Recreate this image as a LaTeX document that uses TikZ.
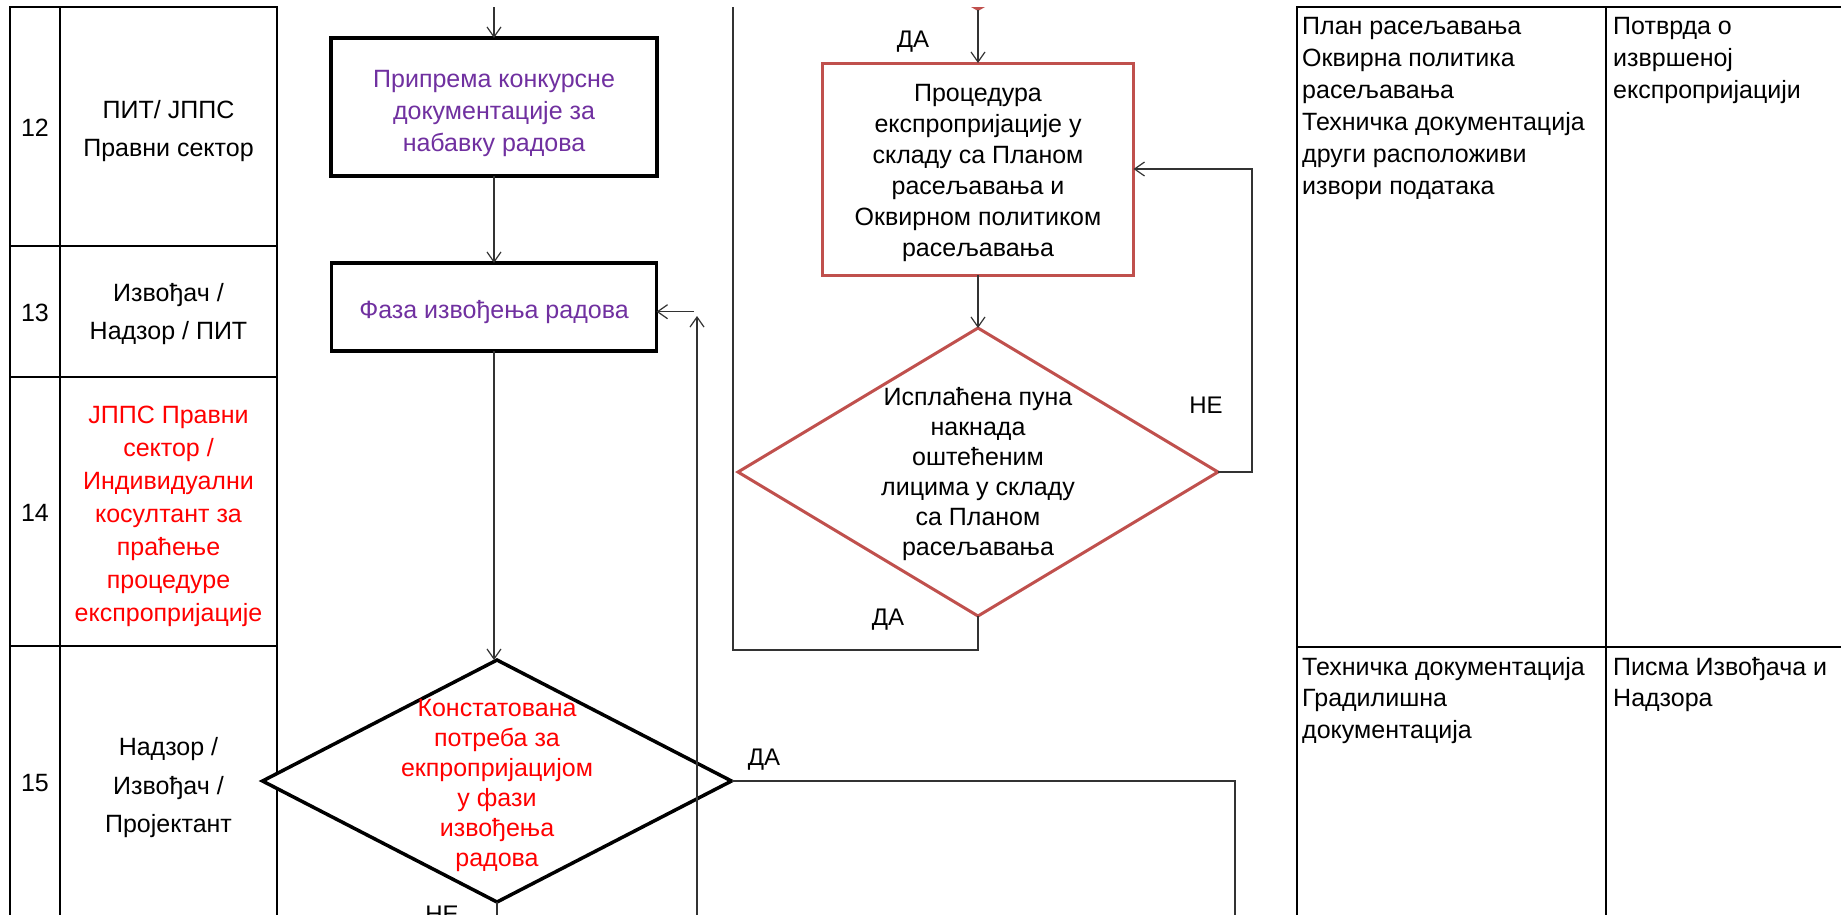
\documentclass[tikz,border=0pt]{standalone}
\usepackage{fontspec}
\setmainfont{Liberation Sans}
\usetikzlibrary{arrows.meta,shapes.geometric}
\definecolor{boxred}{HTML}{C0504D}
\definecolor{txtpurple}{HTML}{7030A0}
\definecolor{txtred}{HTML}{FF0000}
\begin{document}
\begin{tikzpicture}[x=1pt,y=-1pt,
  tbl/.style={line width=2.7pt, black},
  conn/.style={line width=1.2pt, black!80},
  arr/.style={conn, -{Straight Barb[length=10pt,width=14pt,line width=1.2pt]}},
  procbox/.style={draw, line width=3.3pt, fill=white, inner sep=0pt, outer sep=0pt, align=center, font=\fontsize{25}{30}\selectfont},
  diam/.style={diamond, draw, fill=white, line width=3.5pt, inner sep=0pt, outer sep=0pt},
  dtext/.style={align=center, inner sep=0pt, font=\fontsize{25}{30}\selectfont},
  lanetxt/.style={align=center, inner sep=0pt, font=\fontsize{25}{38.5}\selectfont},
  doctxt/.style={align=left, anchor=north west, inner sep=0pt, font=\fontsize{25}{32}\selectfont},
  lab/.style={inner sep=0pt, text height=17pt, text depth=0pt, font=\fontsize{24}{27}\selectfont}
]
\useasboundingbox (0,0) rectangle (1841,914);
\fill[white] (0,0) rectangle (1841,914);
\clip (0,0) rectangle (1841,914);

% left table
\draw[tbl] (10,925) -- (10,7) -- (277,7) -- (277,925);
\draw[tbl] (60,7) -- (60,925);
\draw[tbl] (10,246) -- (277,246);
\draw[tbl] (10,377) -- (277,377);
\draw[tbl] (10,646) -- (277,646);

% right table
\draw[tbl] (1297,925) -- (1297,7) -- (1850,7);
\draw[tbl] (1606,7) -- (1606,925);
\draw[tbl] (1297,647) -- (1850,647);

% lane texts
\node[lanetxt] (n12) at (35,128) {12};
\node[lanetxt] (r12) at (168.5,131) {ПИТ/ ЈППС\\Правни сектор};
\node[lanetxt] (n13) at (35,313) {13};
\node[lanetxt] (r13) at (168.5,314) {Извођач /\\Надзор / ПИТ};
\node[lanetxt] (n14) at (35,513) {14};
\node[lanetxt, text=txtred, font=\fontsize{25}{33}\selectfont] (r14) at (168.5,516) {ЈППС Правни\\сектор /\\Индивидуални\\косултант за\\праћење\\процедуре\\експропријације};
\node[lanetxt] (n15) at (35,783) {15};
\node[lanetxt] (r15) at (168.5,788) {Надзор /\\Извођач /\\Пројектант};

% document texts
\node[doctxt] (doc1) at (1302,16.7) {План расељавања\\Оквирна политика\\расељавања\\Техничка документација\\други расположиви\\извори података};
\node[doctxt] (out1) at (1613,16.7) {Потврда о\\извршеној\\експропријацији};
\node[doctxt, font=\fontsize{25}{31.5}\selectfont] (doc2) at (1302,656.7) {Техничка документација\\Градилишна\\документација};
\node[doctxt, font=\fontsize{25}{31.5}\selectfont] (out2) at (1613,656.7) {Писма Извођача и\\Надзора};

% process boxes
\node[procbox, minimum width=326pt, minimum height=138pt, text=txtpurple, font=\fontsize{25}{32}\selectfont] (b1) at (494,107) {\rule{0pt}{31pt}Припрема конкурсне\\документације за\\набавку радова};
\node[procbox, minimum width=325pt, minimum height=88pt, text=txtpurple, text height=29pt, text depth=5.3pt] (b2) at (494,307) {Фаза извођења радова};
\node[procbox, draw=boxred, line width=3pt, minimum width=311pt, minimum height=212pt, font=\fontsize{25}{31}\selectfont] (b3) at (978,169) {\rule{0pt}{26pt}Процедура\\експропријације у\\складу са Планом\\расељавања и\\Оквирном политиком\\расељавања};

% decisions
\node[diam, minimum width=469pt, minimum height=242pt] (d1) at (497,781) {};
\node[dtext, text=txtred] (t1) at (d1.center) [yshift=-4pt] {Констатована\\потреба за\\екпропријацијом\\у фази\\извођења\\радова};
\node[diam, draw=boxred, line width=3pt, minimum width=480pt, minimum height=288pt] (d2) at (978,472) {};
\node[dtext] (t2) at (d2.center) [yshift=-2pt] {Исплаћена пуна\\накнада\\оштећеним\\лицима у складу\\са Планом\\расељавања};

% free ends
\coordinate (topA) at (494,7);
\coordinate (botA) at (497,925);
\coordinate (yesB) at (1235,925);
\coordinate (upA) at (697,925);
\coordinate (upB) at (697,316);
\coordinate (inC) at (694,311.7);
\coordinate (loopA) at (733,650);
\coordinate (loopB) at (733,7);
\coordinate (topB) at (978,10);
\coordinate (fbA) at (1252,169);

% connectors
\draw[arr] (topA) -- (b1.north);
\draw[arr] (b1.south) -- (b2.north);
\draw[arr] (b2.south) -- (b2.south |- d1.north);
\draw[conn] (d1.south) -- (botA);
\draw[conn] (d1.east) -| (yesB);
\draw[arr] (upA) -- (upB);
\draw[arr] (inC) -- (inC -| b2.east);
\draw[conn] (d2.south) |- (loopA) -- (loopB);
\fill[boxred] (971,7) -- (985,7) -- (978,11) -- cycle;
\draw[arr] (topB) -- (b3.north);
\draw[arr] (b3.south) -- (d2.north);
\draw[arr] (d2.east) -| (fbA) -- (b3.east);

% labels
\node[lab] (la1) at (913,39) {ДА};
\node[lab] (la2) at (1206,405) {НЕ};
\node[lab] (la3) at (888,617) {ДА};
\node[lab] (la4) at (764,757) {ДА};
\node[lab] (la5) at (442,913.5) {НЕ};
\end{tikzpicture}
\end{document}
